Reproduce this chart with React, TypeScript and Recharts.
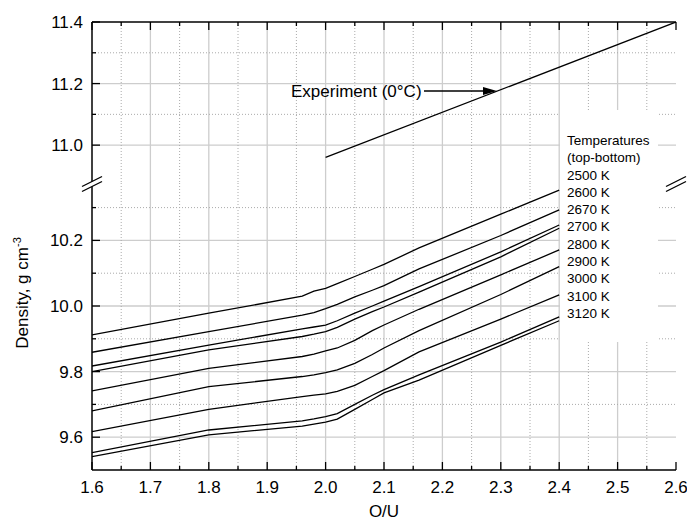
import React from 'react';
import { LineChart, Line, XAxis, YAxis, CartesianGrid } from 'recharts';

const ouPoints = [1.6, 1.8, 1.96, 1.98, 2.0, 2.02, 2.05, 2.08, 2.1, 2.16, 2.3, 2.4];

const temperatures = ['2500 K', '2600 K', '2670 K', '2700 K', '2800 K', '2900 K', '3000 K', '3100 K', '3120 K'];

// density (g cm-3), top curve to bottom curve
const density2500 = [9.912, 9.978, 10.03, 10.045, 10.054, 10.068, 10.09, 10.112, 10.127, 10.177, 10.28, 10.353];
const density2600 = [9.859, 9.922, 9.972, 9.98, 9.992, 10.005, 10.028, 10.048, 10.062, 10.113, 10.215, 10.293];
const density2670 = [9.817, 9.881, 9.93, 9.936, 9.942, 9.955, 9.978, 10.0, 10.015, 10.059, 10.165, 10.247];
const density2700 = [9.8, 9.866, 9.907, 9.914, 9.922, 9.935, 9.96, 9.983, 9.997, 10.042, 10.15, 10.237];
const density2800 = [9.741, 9.81, 9.846, 9.853, 9.863, 9.872, 9.895, 9.925, 9.942, 9.99, 10.095, 10.171];
const density2900 = [9.68, 9.754, 9.785, 9.79, 9.797, 9.805, 9.825, 9.852, 9.872, 9.925, 10.035, 10.12];
const density3000 = [9.617, 9.685, 9.724, 9.728, 9.732, 9.74, 9.758, 9.785, 9.803, 9.86, 9.96, 10.034];
const density3100 = [9.553, 9.622, 9.65, 9.656, 9.663, 9.672, 9.7, 9.728, 9.745, 9.79, 9.89, 9.967];
const density3120 = [9.541, 9.607, 9.634, 9.64, 9.646, 9.655, 9.685, 9.715, 9.735, 9.774, 9.88, 9.955];

const densitySeries = [density2500, density2600, density2670, density2700, density2800, density2900, density3000, density3100, density3120];

// experiment at 0 C
const experimentOU = [2.0, 2.6];
const experimentDensity = [10.96, 11.4];

const xTicks = [1.6, 1.65, 1.7, 1.75, 1.8, 1.85, 1.9, 1.95, 2.0, 2.05, 2.1, 2.15, 2.2, 2.25, 2.3, 2.35, 2.4, 2.45, 2.5, 2.55, 2.6];
const lowerTicks = [9.6, 9.7, 9.8, 9.9, 10.0, 10.1, 10.2, 10.3];
const upperTicks = [11.0, 11.1, 11.2, 11.3, 11.4];

const xGridMajor = [1.7, 1.8, 1.9, 2.0, 2.1, 2.2, 2.3, 2.4, 2.5];
const xGridMinor = [1.65, 1.75, 1.85, 1.95, 2.05, 2.15, 2.25, 2.35, 2.45, 2.55];
const lowerGridMajor = [9.6, 9.8, 10.0, 10.2];
const lowerGridMinor = [9.7, 9.9, 10.1, 10.3];
const upperGridMajor = [11.0, 11.2];
const upperGridMinor = [11.1, 11.3];

const FONT = '"Liberation Sans", Arial, Helvetica, sans-serif';
const AXIS = { stroke: '#000', strokeWidth: 1.5 };

const lowerData = ouPoints.map((ou, i) => {
  const row: Record<string, number> = { ou };
  densitySeries.forEach((s, k) => (row['t' + k] = s[i]));
  return row;
});

const upperData = experimentOU.map((ou, i) => ({ ou, exp: experimentDensity[i] }));

const isMajorY = (v: number) => Math.round(v * 10) % 2 === 0;
const isMajorX = (v: number) => Math.round(v * 100) % 10 === 0;

function LeftTick({ x, y, payload }: any) {
  const major = isMajorY(payload.value);
  return (
    <g>
      <line x1={x} x2={x + (major ? 8 : 4)} y1={y} y2={y} stroke="#000" strokeWidth={1.3} />
      {major && (
        <text x={x - 9} y={y + 6} textAnchor="end" fontSize={17} fontFamily={FONT} fill="#000">
          {payload.value.toFixed(1)}
        </text>
      )}
    </g>
  );
}

function RightTick({ x, y, payload }: any) {
  const major = isMajorY(payload.value);
  return <line x1={x} x2={x - (major ? 8 : 4)} y1={y} y2={y} stroke="#000" strokeWidth={1.3} />;
}

function BottomTick({ x, y, payload }: any) {
  const major = isMajorX(payload.value);
  return (
    <g>
      <line x1={x} x2={x} y1={y} y2={y - (major ? 8 : 4)} stroke="#000" strokeWidth={1.3} />
      {major && (
        <text x={x} y={y + 23} textAnchor="middle" fontSize={17} fontFamily={FONT} fill="#000">
          {payload.value.toFixed(1)}
        </text>
      )}
    </g>
  );
}

function TopTick({ x, y, payload }: any) {
  const major = isMajorX(payload.value);
  return <line x1={x} x2={x} y1={y} y2={y + (major ? 8 : 4)} stroke="#000" strokeWidth={1.3} />;
}

function BreakMark({ x }: { x: number }) {
  return (
    <g>
      <polygon points={`${x - 9},${186} ${x + 9},${177} ${x + 9},${182} ${x - 9},${191}`} fill="#fff" />
      <line x1={x - 10} y1={186.5} x2={x + 10} y2={176.5} stroke="#000" strokeWidth={1.3} />
      <line x1={x - 10} y1={191.5} x2={x + 10} y2={181.5} stroke="#000" strokeWidth={1.3} />
    </g>
  );
}

export default function App() {
  return (
    <div style={{ position: 'absolute', left: 0, top: 0, width: 687, height: 523, background: '#fff', fontFamily: FONT }}>
      {/* upper panel: experiment */}
      <div style={{ position: 'absolute', left: 0, top: 0 }}>
        <LineChart width={687} height={183} data={upperData} margin={{ top: 20, right: 11, bottom: 0, left: 42 }}>
          <CartesianGrid horizontalValues={upperGridMajor} verticalValues={xGridMajor} stroke="#cdcdcd" strokeWidth={1.3} />
          <CartesianGrid horizontalValues={upperGridMinor} verticalValues={xGridMinor} stroke="#aaa" strokeDasharray="1 2" />
          <XAxis xAxisId={0} orientation="top" type="number" dataKey="ou" domain={[1.6, 2.6]} ticks={xTicks} interval={0}
            height={2} tickSize={0} tickMargin={0} tickLine={false} axisLine={AXIS} tick={<TopTick />} allowDataOverflow />
          <YAxis domain={[10.877, 11.4]} ticks={upperTicks} interval={0} width={50} tickSize={0} tickMargin={0}
            tickLine={false} axisLine={AXIS} tick={<LeftTick />} allowDataOverflow />
          <YAxis yAxisId="r" orientation="right" domain={[10.877, 11.4]} ticks={upperTicks} interval={0} width={0}
            tickSize={0} tickMargin={0} tickLine={false} axisLine={AXIS} tick={<RightTick />} allowDataOverflow />
          <Line dataKey="exp" stroke="#000" strokeWidth={1.3} dot={false} type="linear" isAnimationActive={false} />
        </LineChart>
      </div>

      {/* lower panel: calculated densities */}
      <div style={{ position: 'absolute', left: 0, top: 183 }}>
        <LineChart width={687} height={340} data={lowerData} margin={{ top: 0, right: 11, bottom: 0, left: 42 }}>
          <CartesianGrid horizontalValues={lowerGridMajor} verticalValues={xGridMajor} stroke="#cdcdcd" strokeWidth={1.3} />
          <CartesianGrid horizontalValues={lowerGridMinor} verticalValues={xGridMinor} stroke="#aaa" strokeDasharray="1 2" />
          <XAxis type="number" dataKey="ou" domain={[1.6, 2.6]} ticks={xTicks} interval={0} height={53}
            tickSize={0} tickMargin={0} tickLine={false} axisLine={AXIS} tick={<BottomTick />} allowDataOverflow
            label={{ value: 'O/U', position: 'insideBottom', offset: 6, fontSize: 17, fontFamily: FONT, fill: '#000' }} />
          <YAxis domain={[9.5, 10.375]} ticks={lowerTicks} interval={0} width={50} tickSize={0} tickMargin={0}
            tickLine={false} axisLine={AXIS} tick={<LeftTick />} allowDataOverflow />
          <YAxis yAxisId="r" orientation="right" domain={[9.5, 10.375]} ticks={lowerTicks} interval={0} width={0}
            tickSize={0} tickMargin={0} tickLine={false} axisLine={AXIS} tick={<RightTick />} allowDataOverflow />
          {densitySeries.map((_, k) => (
            <Line key={k} dataKey={'t' + k} name={temperatures[k]} stroke="#000" strokeWidth={1.3} dot={false}
              type="linear" isAnimationActive={false} />
          ))}
        </LineChart>
      </div>

      {/* temperature list, on a white box over the grid */}
      <div style={{ position: 'absolute', left: 560, top: 110, width: 98, height: 232, background: '#fff',
        boxSizing: 'border-box', paddingTop: 22, paddingLeft: 7, fontSize: 13.5, lineHeight: '17.3px', color: '#000' }}>
        <div>Temperatures</div>
        <div>(top-bottom)</div>
        {temperatures.map((t) => (
          <div key={t}>{t}</div>
        ))}
      </div>

      {/* annotations, axis title and axis breaks */}
      <svg width={687} height={523} style={{ position: 'absolute', left: 0, top: 0, pointerEvents: 'none' }}>
        <BreakMark x={92} />
        <BreakMark x={676} />
        <text x={291} y={97} fontSize={17} fontFamily={FONT} fill="#000">Experiment (0°C)</text>
        <line x1={424} y1={91} x2={485} y2={91} stroke="#000" strokeWidth={1.3} />
        <polygon points="497,91 483,87 483,95" fill="#000" />
        <text transform="translate(28,293) rotate(-90)" textAnchor="middle" fontSize={17} fontFamily={FONT} fill="#000">
          Density, g cm<tspan dy={-7} fontSize={11}>-3</tspan>
        </text>
      </svg>
    </div>
  );
}
